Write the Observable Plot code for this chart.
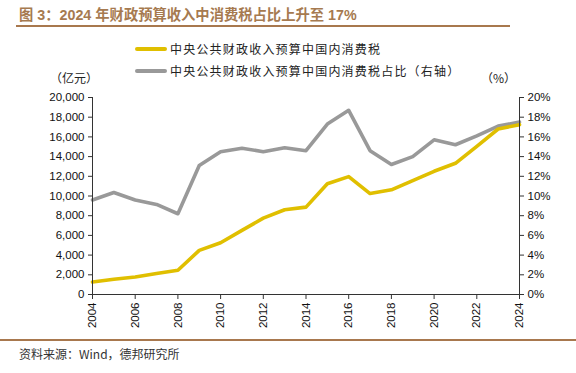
<!DOCTYPE html>
<html>
<head>
<meta charset="utf-8">
<script src="https://cdn.jsdelivr.net/npm/d3@7"></script>
<script src="https://cdn.jsdelivr.net/npm/@observablehq/plot@0.6"></script>
<style>
  html, body { margin: 0; padding: 0; background: #fff; }
  #wrap { position: relative; width: 576px; height: 373px; overflow: hidden; font-family: "Liberation Sans", "Noto Sans CJK SC", sans-serif; }
  #chart { position: absolute; left: 0; top: 0; }
  .abs { position: absolute; white-space: nowrap; }
  #title { left: 19px; top: 3px; font-size: 14.3px; font-weight: bold; color: #a67a50; font-family: "Liberation Sans", "Noto Sans CJK SC", sans-serif; }
  #rule1 { left: 16px; top: 25px; width: 494px; height: 2px; background: #a8784e; }
  #rule2 { left: 0px; top: 339px; width: 576px; height: 2px; background: #a8784e; }
  .leg { font-size: 12px; color: #222; font-family: "Noto Sans CJK SC", sans-serif; letter-spacing: 1.2px; }
  .sw { position: absolute; width: 32px; height: 4px; border-radius: 2px; }
  #source { left: 19px; top: 345px; font-size: 12px; color: #333; font-family: "Noto Sans CJK SC", sans-serif; }
  .unit { font-size: 12px; color: #222; font-family: "Noto Sans CJK SC", sans-serif; }
</style>
</head>
<body>
<div id="wrap">
  <div id="chart"></div>
  <div class="abs" id="title">图 3：2024 年财政预算收入中消费税占比上升至 17%</div>
  <div class="abs" id="rule1"></div>
  <div class="sw" style="left:135px; top:47px; background:#e0bf00;"></div>
  <div class="abs leg" style="left:170px; top:40px;">中央公共财政收入预算中国内消费税</div>
  <div class="sw" style="left:135px; top:69px; background:#999999;"></div>
  <div class="abs leg" style="left:170px; top:62px;">中央公共财政收入预算中国内消费税占比（右轴）</div>
  <div class="abs unit" style="left:50px; top:69px;">（亿元）</div>
  <div class="abs unit" style="left:481px; top:69px;">（%）</div>
  <div class="abs" id="rule2"></div>
  <div class="abs" id="source">资料来源：Wind，德邦研究所</div>
</div>
<script>
const years = d3.range(2004, 2025);
const taxValues = [1275, 1550, 1780, 2125, 2460, 4480, 5260, 6510, 7750, 8600, 8870, 11250, 11970, 10250, 10630, 11570, 12510, 13320, 15040, 16800, 17240];
const taxShare = [9.6, 10.35, 9.6, 9.14, 8.2, 13.1, 14.5, 14.85, 14.5, 14.9, 14.6, 17.3, 18.7, 14.6, 13.2, 14.0, 15.7, 15.2, 16.1, 17.1, 17.5];
const leftTicks = d3.range(0, 20001, 2000);
const rightTicks = d3.range(0, 21, 2);
const xTicks = d3.range(2004, 2025, 2);

const amount = years.map((y, i) => ({year: y, v: taxValues[i]}));
const share = years.map((y, i) => ({year: y, v: taxShare[i] * 1000}));

const chart = Plot.plot({
  width: 576,
  height: 373,
  marginTop: 97,
  marginBottom: 79,
  marginLeft: 92,
  marginRight: 57,
  style: {fontFamily: "Liberation Sans, Arial, sans-serif", fontSize: "11.5px", color: "#111", background: "transparent"},
  x: {domain: [2004, 2024]},
  y: {domain: [0, 20000]},
  marks: [
    Plot.line(share, {x: "year", y: "v", stroke: "#999999", strokeWidth: 3.6}),
    Plot.line(amount, {x: "year", y: "v", stroke: "#e0bf00", strokeWidth: 3.6}),
    Plot.ruleX([2004, 2024], {stroke: "#333", strokeWidth: 1}),
    Plot.ruleY([0], {stroke: "#333", strokeWidth: 1}),
    Plot.axisX({ticks: xTicks, tickFormat: d => String(d), tickRotate: -90, tickSize: 5, tickPadding: 3, label: null, stroke: "#333"}),
    Plot.axisY({anchor: "left", ticks: leftTicks, tickFormat: d3.format(","), tickSize: 4, tickPadding: 4, label: null, stroke: "#333"}),
    Plot.axisY({anchor: "right", ticks: rightTicks.map(d => d * 1000), tickFormat: d => (d / 1000) + "%", tickSize: 4, tickPadding: 4, label: null, stroke: "#333"})
  ]
});
document.getElementById("chart").appendChild(chart);
</script>
</body>
</html>
